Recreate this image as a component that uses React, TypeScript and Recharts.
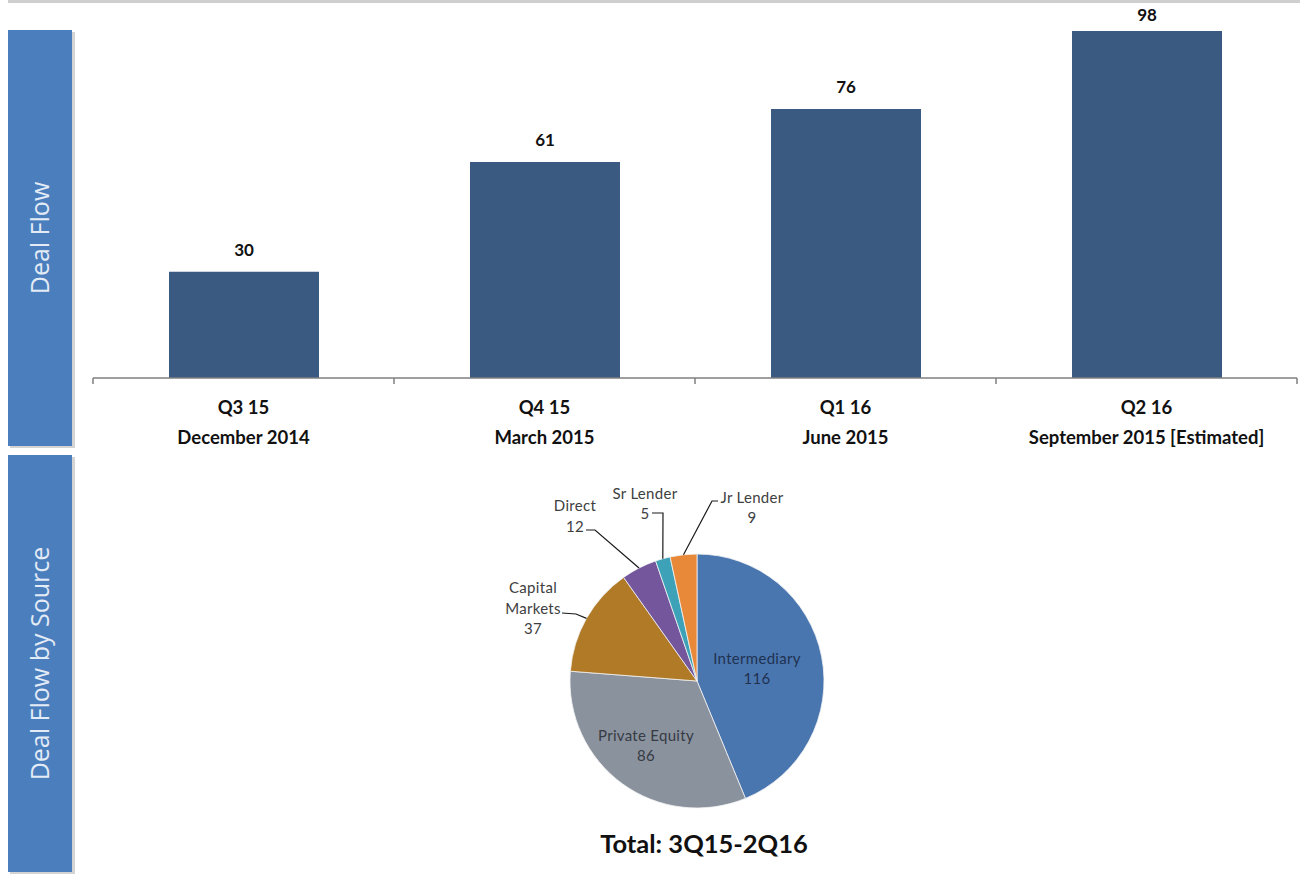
import React from "react";
import { BarChart, Bar, XAxis, YAxis, LabelList, PieChart, Pie, Cell } from "recharts";

// ---------- data ----------
const quarters = ["Q3 15", "Q4 15", "Q1 16", "Q2 16"];
const periods = ["December 2014", "March 2015", "June 2015", "September 2015 [Estimated]"];
const dealFlow = [30, 61, 76, 98];

const sourceNames = ["Intermediary", "Private Equity", "Capital Markets", "Direct", "Sr Lender", "Jr Lender"];
const sourceValues = [116, 86, 37, 12, 5, 9];
const sourceColors = ["#4a76b0", "#8a929e", "#b07a27", "#74569c", "#3da2b8", "#e8893a"];

const panelTitles = ["Deal Flow", "Deal Flow by Source"];
const pieTitle = "Total: 3Q15-2Q16";

const barData = quarters.map((q, i) => ({ quarter: q, period: periods[i], value: dealFlow[i] }));
const pieData = sourceNames.map((n, i) => ({ name: n, value: sourceValues[i] }));

// ---------- layout ----------
const FONT = "Lato, 'Open Sans', sans-serif";
const BAR_W = 1300;
const BAR_H = 460;
const M = { top: 31, right: 3, left: 93, bottom: 22 };
const AXIS_H = 60;
const AXIS_Y = BAR_H - M.bottom - AXIS_H; // 378
const PLOT_W = BAR_W - M.left - M.right;
const BAND = PLOT_W / quarters.length;

const PIE_TOP = 454;
const PIE_CX = 697;
const PIE_CY = 681 - PIE_TOP;
const PIE_R = 127;

// label layout for pie (offsets from pie centre)
type Lay = { dx: number; dy: number; gap: number; inside?: boolean; wrap?: boolean; color: string; line?: number[][] };
const labelLayout: Lay[] = [
  { dx: 60, dy: -23, gap: 20, inside: true, color: "#1f3251" },
  { dx: -51, dy: 54, gap: 20, inside: true, color: "#363b44" },
  { dx: -164, dy: -94, gap: 20.5, wrap: true, color: "#404040", line: [[-135, -68], [-121, -67]] },
  { dx: -122, dy: -176, gap: 21, color: "#404040", line: [[-111, -151], [-102, -151]] },
  { dx: -52, dy: -188, gap: 20, color: "#404040", line: [[-45, -168], [-34, -168]] },
  { dx: 55, dy: -184, gap: 20, color: "#404040", line: [[21, -180], [15, -180]] },
];

const RAD = Math.PI / 180;

const QuarterTick = (props: any) => {
  const { x, payload } = props;
  const idx = quarters.indexOf(payload.value);
  const last = idx === quarters.length - 1;
  return (
    <g>
      <line x1={x - BAND / 2} y1={AXIS_Y} x2={x - BAND / 2} y2={AXIS_Y + 6} stroke="#7f7f7f" strokeWidth={1.5} />
      {last && <line x1={x + BAND / 2} y1={AXIS_Y} x2={x + BAND / 2} y2={AXIS_Y + 6} stroke="#7f7f7f" strokeWidth={1.5} />}
      <text x={x} y={AXIS_Y + 36} textAnchor="middle" fontFamily={FONT} fontWeight={700} fontSize={18.5} fill="#111">
        {payload.value}
      </text>
      <text x={x} y={AXIS_Y + 66} textAnchor="middle" fontFamily={FONT} fontWeight={700} fontSize={18.5} fill="#111">
        {periods[idx]}
      </text>
    </g>
  );
};

// value label above each bar; kept inside the chart when the bar reaches the top
const BarValueLabel = (props: any) => {
  const { x, y, width, value } = props;
  const by = Math.max(y - 16, 21);
  return (
    <text x={x + width / 2} y={by} textAnchor="middle" fontFamily={FONT} fontWeight={700} fontSize={17} fill="#111">
      {value}
    </text>
  );
};

const renderPieLabel = (props: any) => {
  const { cx, cy, midAngle, outerRadius, index } = props;
  const lay = labelLayout[index];
  const name = sourceNames[index];
  const lines = [...(lay.wrap ? name.split(" ") : [name]), String(sourceValues[index])];
  const tx = cx + lay.dx;
  const ty = cy + lay.dy;
  let path: React.ReactNode = null;
  if (lay.line) {
    const ex = cx + outerRadius * Math.cos(-midAngle * RAD);
    const ey = cy + outerRadius * Math.sin(-midAngle * RAD);
    const pts = lay.line.map((p) => `${cx + p[0]},${cy + p[1]}`).join(" ") + ` ${ex},${ey}`;
    path = <polyline points={pts} fill="none" stroke="#1a1a1a" strokeWidth={1.2} />;
  }
  return (
    <g key={`lbl-${index}`}>
      {path}
      {lines.map((t, i) => (
        <text
          key={i}
          x={tx}
          y={ty + i * lay.gap}
          textAnchor="middle"
          dominantBaseline="central"
          fontFamily={FONT}
          fontSize={15}
          letterSpacing={0.3}
          fill={lay.color}
        >
          {t}
        </text>
      ))}
    </g>
  );
};

const Panel = ({ y, h, title }: { y: number; h: number; title: string }) => {
  const cy = y + h / 2;
  return (
    <g>
      <rect x={10} y={y + 2} width={65} height={h} fill="#b8b8b8" opacity={0.6} />
      <rect x={8} y={y} width={64} height={h} fill="#4b7ebd" />
      <text
        x={49}
        y={cy}
        transform={`rotate(-90, 49, ${cy})`}
        textAnchor="middle"
        fontFamily="'Open Sans', sans-serif"
        fontSize={25}
        fill="#e3ebf6"
      >
        {title}
      </text>
    </g>
  );
};

export default function App() {
  return (
    <div style={{ position: "absolute", left: 0, top: 0, width: 1300, height: 874, background: "#fff", overflow: "hidden" }}>
      <svg width={1300} height={874} style={{ position: "absolute", left: 0, top: 0 }}>
        <rect x={8} y={0} width={1292} height={3} fill="#cfcfcf" />
        <Panel y={30} h={416} title={panelTitles[0]} />
        <Panel y={455} h={417} title={panelTitles[1]} />
        <text x={704} y={843} textAnchor="middle" dominantBaseline="central" fontFamily={FONT} fontWeight={700} fontSize={25.5} fill="#111">
          {pieTitle}
        </text>
      </svg>

      <div style={{ position: "absolute", left: 0, top: 0 }}>
        <BarChart width={BAR_W} height={BAR_H} data={barData} margin={M} barSize={150}>
          <XAxis
            dataKey="quarter"
            height={AXIS_H}
            axisLine={{ stroke: "#7f7f7f", strokeWidth: 1.5 }}
            tickLine={false}
            tick={<QuarterTick />}
            interval={0}
          />
          <YAxis hide domain={[0, 98]} />
          <Bar dataKey="value" fill="#3b5a82" isAnimationActive={false}>
            <LabelList dataKey="value" content={<BarValueLabel />} />
          </Bar>
        </BarChart>
      </div>

      <div style={{ position: "absolute", left: 0, top: PIE_TOP }}>
        <PieChart width={1300} height={400} margin={{ top: 0, right: 0, bottom: 0, left: 0 }}>
          <Pie
            data={pieData}
            dataKey="value"
            nameKey="name"
            cx={PIE_CX}
            cy={PIE_CY}
            outerRadius={PIE_R}
            startAngle={90}
            endAngle={-270}
            stroke="#f2f2f2"
            strokeWidth={0.8}
            label={renderPieLabel}
            labelLine={false}
            isAnimationActive={false}
          >
            {pieData.map((d, i) => (
              <Cell key={d.name} fill={sourceColors[i]} />
            ))}
          </Pie>
        </PieChart>
      </div>
    </div>
  );
}
